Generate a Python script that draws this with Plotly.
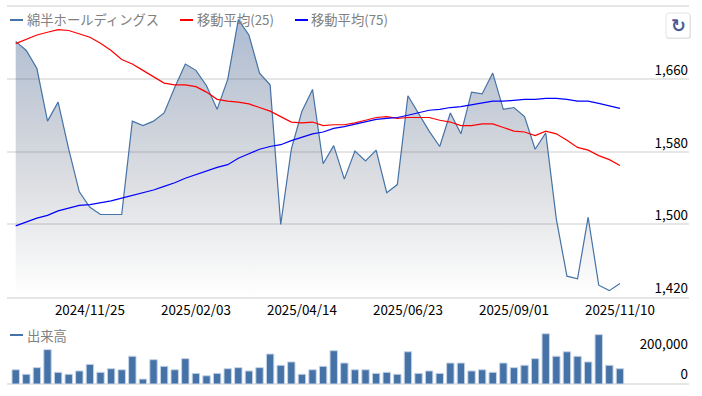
import pandas as pd
import plotly.graph_objects as go

dates = pd.date_range("2024-10-07", periods=58, freq="7D")
price = [1702,1692,1672,1614,1635,1583,1536,1519,1511,1511,1511,1614,1609,1614,1623,1651,1677,1670,1653,1627,
         1660,1726,1709,1667,1654,1500,1583,1625,1649,1567,1587,1550,1581,1570,1582,1535,1544,1642,1623,1603,
         1586,1623,1600,1646,1644,1667,1627,1629,1619,1583,1601,1506,1443,1440,1508,1433,1427,1435]
ma25 = [1699.5,1704,1709,1712,1715,1714,1710,1706.5,1700,1692,1682,1677,1670,1663,1656,1654,1654,1652,1646,1638,
        1636,1635,1633,1629,1625,1619,1613,1612,1613,1609,1610,1610,1612,1615,1618,1619,1617,1618,1618,1618,
        1615,1613,1609,1609,1611,1611,1607,1603,1602,1598,1603,1600,1593,1585,1582,1576,1571.5,1565]
ma75 = [1498.5,1503,1507,1510,1515,1518,1521,1522,1524,1526,1529,1532,1535,1538,1542,1546,1551,1555,1559,1563,
        1566,1573,1578,1583,1586,1588,1592.5,1596,1600,1602,1606,1608,1610.5,1613.5,1616,1617,1618,1620.5,1623.5,1626,
        1627,1629,1630,1632,1634.5,1636,1636,1637,1638,1638,1639,1639,1638,1636,1636,1633.5,1630.5,1628]
volume = [95,65,109,229,78,65,87,131,78,102,95,185,33,162,118,95,169,71,55,71,
          102,109,87,109,200,125,147,65,95,118,222,140,95,95,71,78,65,215,71,87,
          71,140,140,87,95,78,140,109,125,169,335,185,215,185,147,329,125,102]
volume = [v * 1000 for v in volume]

price_ticks = [1420, 1500, 1580, 1660]
price_tick_text = ["1,420", "1,500", "1,580", "1,660"]
volume_ticks = [0, 200000]
volume_tick_text = ["0", "200,000"]
date_ticks = ["2024-11-25", "2025-02-03", "2025-04-14", "2025-06-23", "2025-09-01", "2025-11-10"]

W, H = 702, 396
FONT = "Noto Sans CJK JP"
LEGEND_GREY = "#808080"
def px(v): return v / W
def py(v): return 1 - v / H

fig = go.Figure()
fig.add_trace(go.Scatter(
    x=dates, y=price, mode="lines", name="綿半ホールディングス",
    line=dict(color="#4572a7", width=1.2), fill="tozeroy",
    fillgradient=dict(type="vertical", start=1420, stop=1741, colorscale=[
        [0, "rgba(60,70,90,0)"], [0.35, "rgba(60,70,90,0.16)"], [1, "rgba(50,90,150,0.42)"]]),
    yaxis="y", xaxis="x"))
fig.add_trace(go.Scatter(x=dates, y=ma25, mode="lines", name="移動平均(25)",
                         line=dict(color="#ff0000", width=1.2)))
fig.add_trace(go.Scatter(x=dates, y=ma75, mode="lines", name="移動平均(75)",
                         line=dict(color="#0000ff", width=1.2)))
fig.add_trace(go.Bar(x=dates, y=volume, name="出来高", xaxis="x2", yaxis="y2",
                     marker=dict(color="#4572a7", line=dict(color="#c6d4e6", width=1))))

x_range = [dates[0] - pd.Timedelta(days=5.75), dates[-1] + pd.Timedelta(days=45.6)]
tick_font = dict(family=FONT, size=13.4, color="#000000")

shapes = [dict(type="line", xref="paper", yref="paper", x0=px(7), x1=px(689), y0=py(6), y1=py(6),
               line=dict(color="#e6e6e6", width=2))]
annotations = []
for x0, x1, y, color, text, tx in [
    (10, 23, 20, "#4572a7", "綿半ホールディングス", 27),
    (180, 193, 20, "#ff0000", "移動平均(25)", 197),
    (295, 308, 20, "#0000ff", "移動平均(75)", 311),
    (10, 23, 335, "#4572a7", "出来高", 27),
]:
    shapes.append(dict(type="line", xref="paper", yref="paper", x0=px(x0), x1=px(x1), y0=py(y), y1=py(y),
                       line=dict(color=color, width=2)))
    annotations.append(dict(xref="paper", yref="paper", x=px(tx), y=py(y), text=text, showarrow=False,
                            xanchor="left", yanchor="middle", xshift=-2,
                            font=dict(family=FONT, size=13.3, color=LEGEND_GREY)))

# reload button
l, r, t, b = 666, 690, 13, 38
rad = 3
def rr(l, r, t, b, rad):
    L, R, T, B = px(l), px(r), py(t), py(b)
    dx, dy = rad / W, rad / H
    return (f"M {L+dx} {T} L {R-dx} {T} Q {R} {T} {R} {T-dy} L {R} {B+dy} Q {R} {B} {R-dx} {B} "
            f"L {L+dx} {B} Q {L} {B} {L} {B+dy} L {L} {T-dy} Q {L} {T} {L+dx} {T} Z")
shapes.append(dict(type="path", xref="paper", yref="paper", path=rr(l, r + 1, t + 1, b + 1, rad),
                   fillcolor="rgba(0,0,0,0.12)", line=dict(width=0)))
shapes.append(dict(type="path", xref="paper", yref="paper", path=rr(l, r, t, b, rad),
                   fillcolor="#ffffff", line=dict(color="#e4e4e4", width=1)))
annotations.append(dict(xref="paper", yref="paper", x=px(678), y=py(25.5), text="<b>↻</b>", showarrow=False,
                        xanchor="center", yanchor="middle",
                        font=dict(family="DejaVu Sans", size=18, color="#4a5a96")))

fig.update_layout(
    width=W, height=H, margin=dict(l=0, r=0, t=0, b=0), autosize=False,
    paper_bgcolor="#ffffff", plot_bgcolor="#ffffff", showlegend=False,
    bargap=0.3, shapes=shapes, annotations=annotations,
    xaxis=dict(domain=[px(7), px(689)], range=x_range, type="date", tickvals=date_ticks, tickformat="%Y/%m/%d",
               showgrid=False, zeroline=False, showline=True, linecolor="#e6e6e6", linewidth=2,
               ticks="", tickfont=tick_font, anchor="y", automargin=False, ticklabelstandoff=0),
    xaxis2=dict(domain=[px(7), px(689)], range=x_range, type="date", showticklabels=False, showgrid=False,
                zeroline=False, ticks="", anchor="y2"),
    yaxis=dict(domain=[py(297), py(6)], range=[1420, 1741], side="right", anchor="x", tickvals=price_ticks,
               ticktext=price_tick_text, ticklabelposition="inside", ticklabelshift=-9, ticklabelstandoff=-2,
               showgrid=True, gridcolor="#e6e6e6", gridwidth=2, zeroline=False, tickfont=tick_font,
               automargin=False, ticks=""),
    yaxis2=dict(domain=[py(384), py(330)], range=[0, 360000], side="right", anchor="x2", tickvals=volume_ticks,
                ticktext=volume_tick_text, ticklabelposition="inside", ticklabelshift=-10, ticklabelstandoff=-2,
                showgrid=False, zeroline=True, zerolinecolor="#e6e6e6", zerolinewidth=2, tickfont=tick_font,
                automargin=False, ticks=""),
)
fig.write_html("out.html", config=dict(displayModeBar=False),
               post_script="document.body.style.margin='0';document.documentElement.style.overflow='hidden';")
